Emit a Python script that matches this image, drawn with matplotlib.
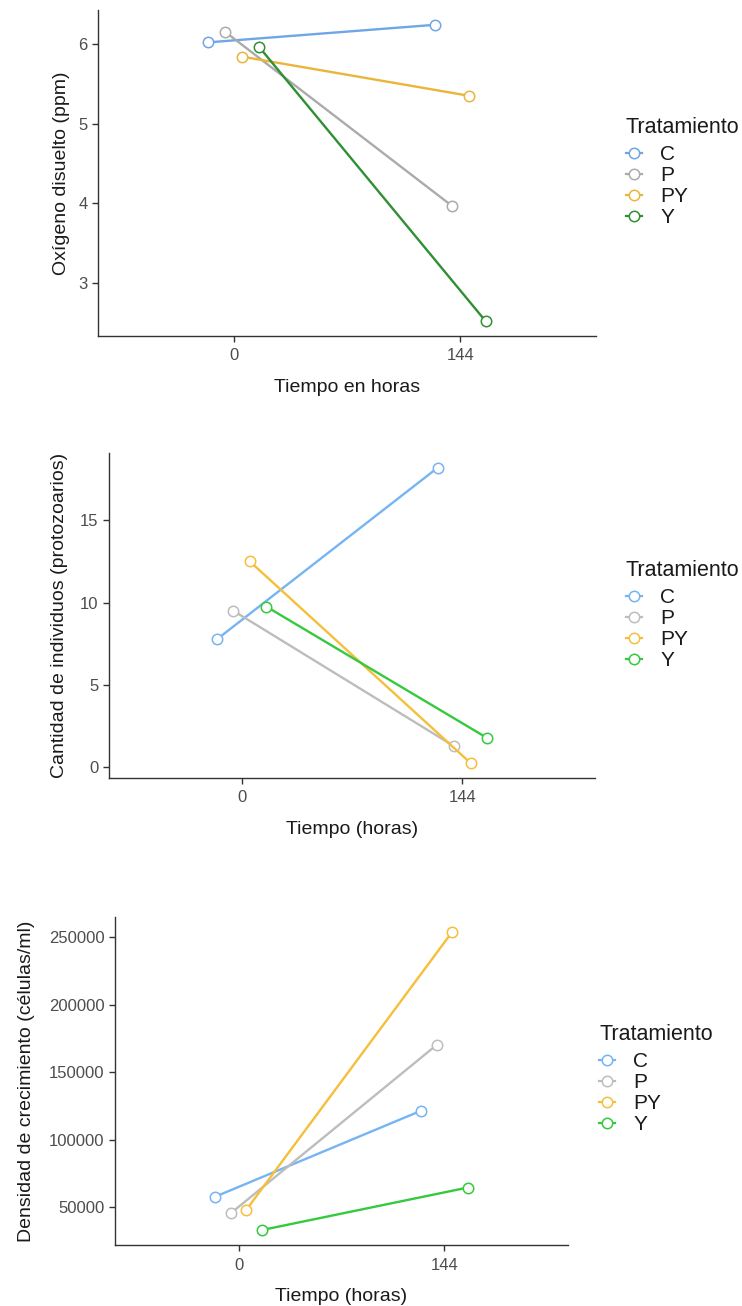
import numpy as np
import matplotlib
matplotlib.use("Agg")
import matplotlib.pyplot as plt
from matplotlib.lines import Line2D

plt.rcParams['font.family'] = ['Liberation Sans', 'DejaVu Sans']

# Data
tratamientos = ['C', 'P', 'PY', 'Y']
tiempos = ['0', '144']

oxigeno = {'C': [6.02, 6.24], 'P': [6.15, 3.97], 'PY': [5.84, 5.35], 'Y': [5.96, 2.52]}
protozoarios = {'C': [7.75, 18.2], 'P': [9.5, 1.25], 'PY': [12.5, 0.22], 'Y': [9.75, 1.75]}
densidad = {'C': [57800, 121500], 'P': [45500, 170200], 'PY': [48000, 253900], 'Y': [33000, 64500]}

colores1 = {'C': '#6fa6e6', 'P': '#ababab', 'PY': '#ebb53c', 'Y': '#2f8f33'}
colores2 = {'C': '#76b4f2', 'P': '#bdbdbd', 'PY': '#f5bf3a', 'Y': '#35c93f'}

# dodge offsets (position_dodge width 0.3, 4 groups)
dodge = np.array([-0.1125, -0.0375, 0.0375, 0.1125])

W, H = 742, 1306
fig = plt.figure(figsize=(W / 100, H / 100), dpi=100)


def add_panel(left, right, top, bottom, datos, colores, ylabel, xlabel, yticks,
              ylabelpad, leg_x, leg_y):
    ax = fig.add_axes([left / W, 1 - bottom / H, (right - left) / W, (bottom - top) / H])
    x = np.arange(len(tiempos))
    for i, t in enumerate(tratamientos):
        ax.plot(x + dodge[i], datos[t], color=colores[t], lw=1.7, marker='o',
                markersize=7.5, markerfacecolor='white', markeredgecolor=colores[t],
                markeredgewidth=1.1, zorder=3)
    ax.set_xlim(-0.6, 1.6)
    ax.set_xticks(x)
    ax.set_xticklabels(tiempos)
    ax.set_yticks(yticks)
    ax.set_yticklabels([str(v) for v in yticks])
    for s in ['top', 'right']:
        ax.spines[s].set_visible(False)
    for s in ['left', 'bottom']:
        ax.spines[s].set_color('#333333')
        ax.spines[s].set_linewidth(1.0)
    ax.tick_params(colors='#333333', labelcolor='#4d4d4d', labelsize=12, length=4, width=1)
    ax.tick_params(axis='x', pad=5)
    ax.set_ylabel(ylabel, fontsize=14, color='#1a1a1a', labelpad=ylabelpad)
    ax.set_xlabel(xlabel, fontsize=14, color='#1a1a1a', labelpad=11)
    handles = [Line2D([0], [0], color=colores[t], lw=1.6, marker='o', markersize=7.5,
                      markerfacecolor='white', markeredgecolor=colores[t],
                      markeredgewidth=1.1) for t in tratamientos]
    leg = fig.legend(handles, tratamientos, title='Tratamiento', loc='center left',
                     bbox_to_anchor=(leg_x / W, 1 - leg_y / H), frameon=False,
                     fontsize=15, title_fontsize=15.5, handlelength=0.75,
                     handletextpad=0.9, labelspacing=0.1, borderpad=0,
                     borderaxespad=0)
    leg._legend_box.align = 'left'
    leg._legend_box.sep = 5
    for txt in leg.get_texts():
        txt.set_color('#1a1a1a')
    leg.get_title().set_color('#1a1a1a')
    return ax


add_panel(98, 596, 10, 336, oxigeno, colores1, 'Oxígeno disuelto (ppm)',
          'Tiempo en horas', [3, 4, 5, 6], 6, 626, 172)
add_panel(109, 595, 453, 778, protozoarios, colores2,
          'Cantidad de individuos (protozoarios)', 'Tiempo (horas)',
          [0, 5, 10, 15], 9, 626, 615)
add_panel(115, 568, 917, 1245, densidad, colores2,
          'Densidad de crecimiento (células/ml)', 'Tiempo (horas)',
          [50000, 100000, 150000, 200000, 250000], 10, 599, 1079)

fig.savefig('out.png', dpi=100)
